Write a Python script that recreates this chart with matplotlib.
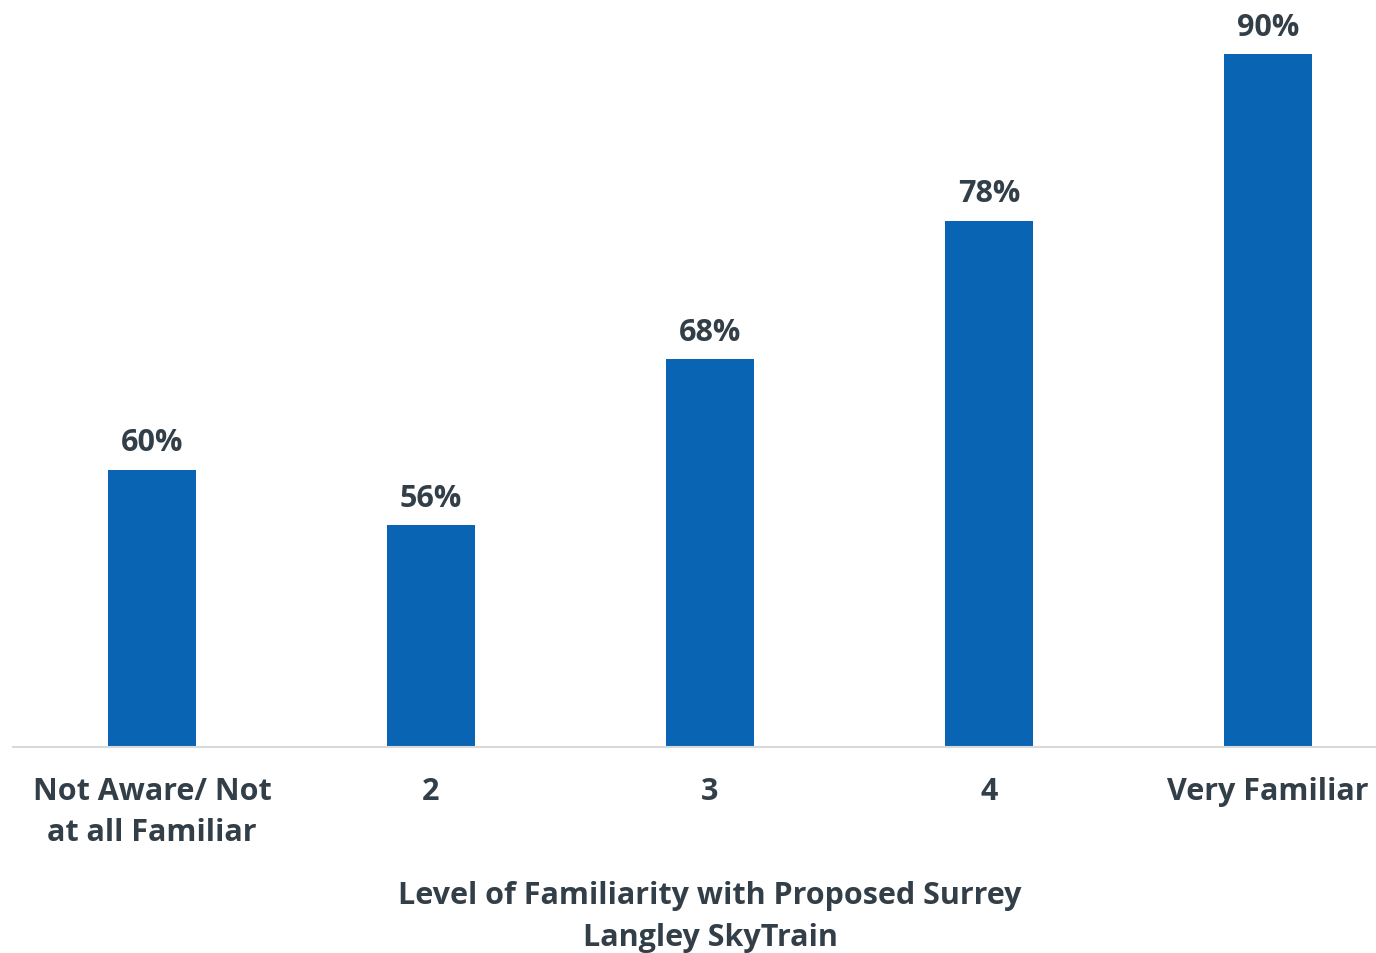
import matplotlib
matplotlib.use("Agg")
import matplotlib.pyplot as plt

categories = ["Not Aware/ Not\nat all Familiar", "2", "3", "4", "Very Familiar"]
values = [60, 56, 68, 78, 90]
value_labels = ["60%", "56%", "68%", "78%", "90%"]
xlabel = "Level of Familiarity with Proposed Surrey\nLangley SkyTrain"

BAR = "#0A64B4"
TXT = "#333F48"
plt.rcParams['font.family'] = ['Open Sans', 'DejaVu Sans']

fig = plt.figure(figsize=(13.76, 9.54), dpi=100)
ax = fig.add_axes([12.5/1376, 1-748/954, 1395/1376, 748/954])
x = range(len(categories))
bars = ax.bar(x, values, width=0.315, color=BAR, zorder=2)
ax.set_xlim(-0.5, 4.5)
ax.set_ylim(40, 40 + 748/13.853)
for b, lab in zip(bars, value_labels):
    ax.annotate(lab, (b.get_x() + b.get_width()/2, b.get_height()),
                xytext=(0, 9), textcoords="offset points", ha="center", va="bottom",
                fontsize=22, fontweight="bold", color=TXT)
ax.set_xticks(list(x))
ax.set_xticklabels(categories, fontsize=22, fontweight="bold", color=TXT, linespacing=1.45)
ax.tick_params(axis="x", length=0, pad=21)
ax.set_yticks([])
for s in ["top", "right", "left"]:
    ax.spines[s].set_visible(False)
ax.spines["bottom"].set_color("#D9D9D9")
ax.spines["bottom"].set_linewidth(1.5)
ax.set_xlabel(xlabel, fontsize=22, fontweight="bold", color=TXT, labelpad=24, linespacing=1.54)
fig.savefig("out.png", dpi=100)
